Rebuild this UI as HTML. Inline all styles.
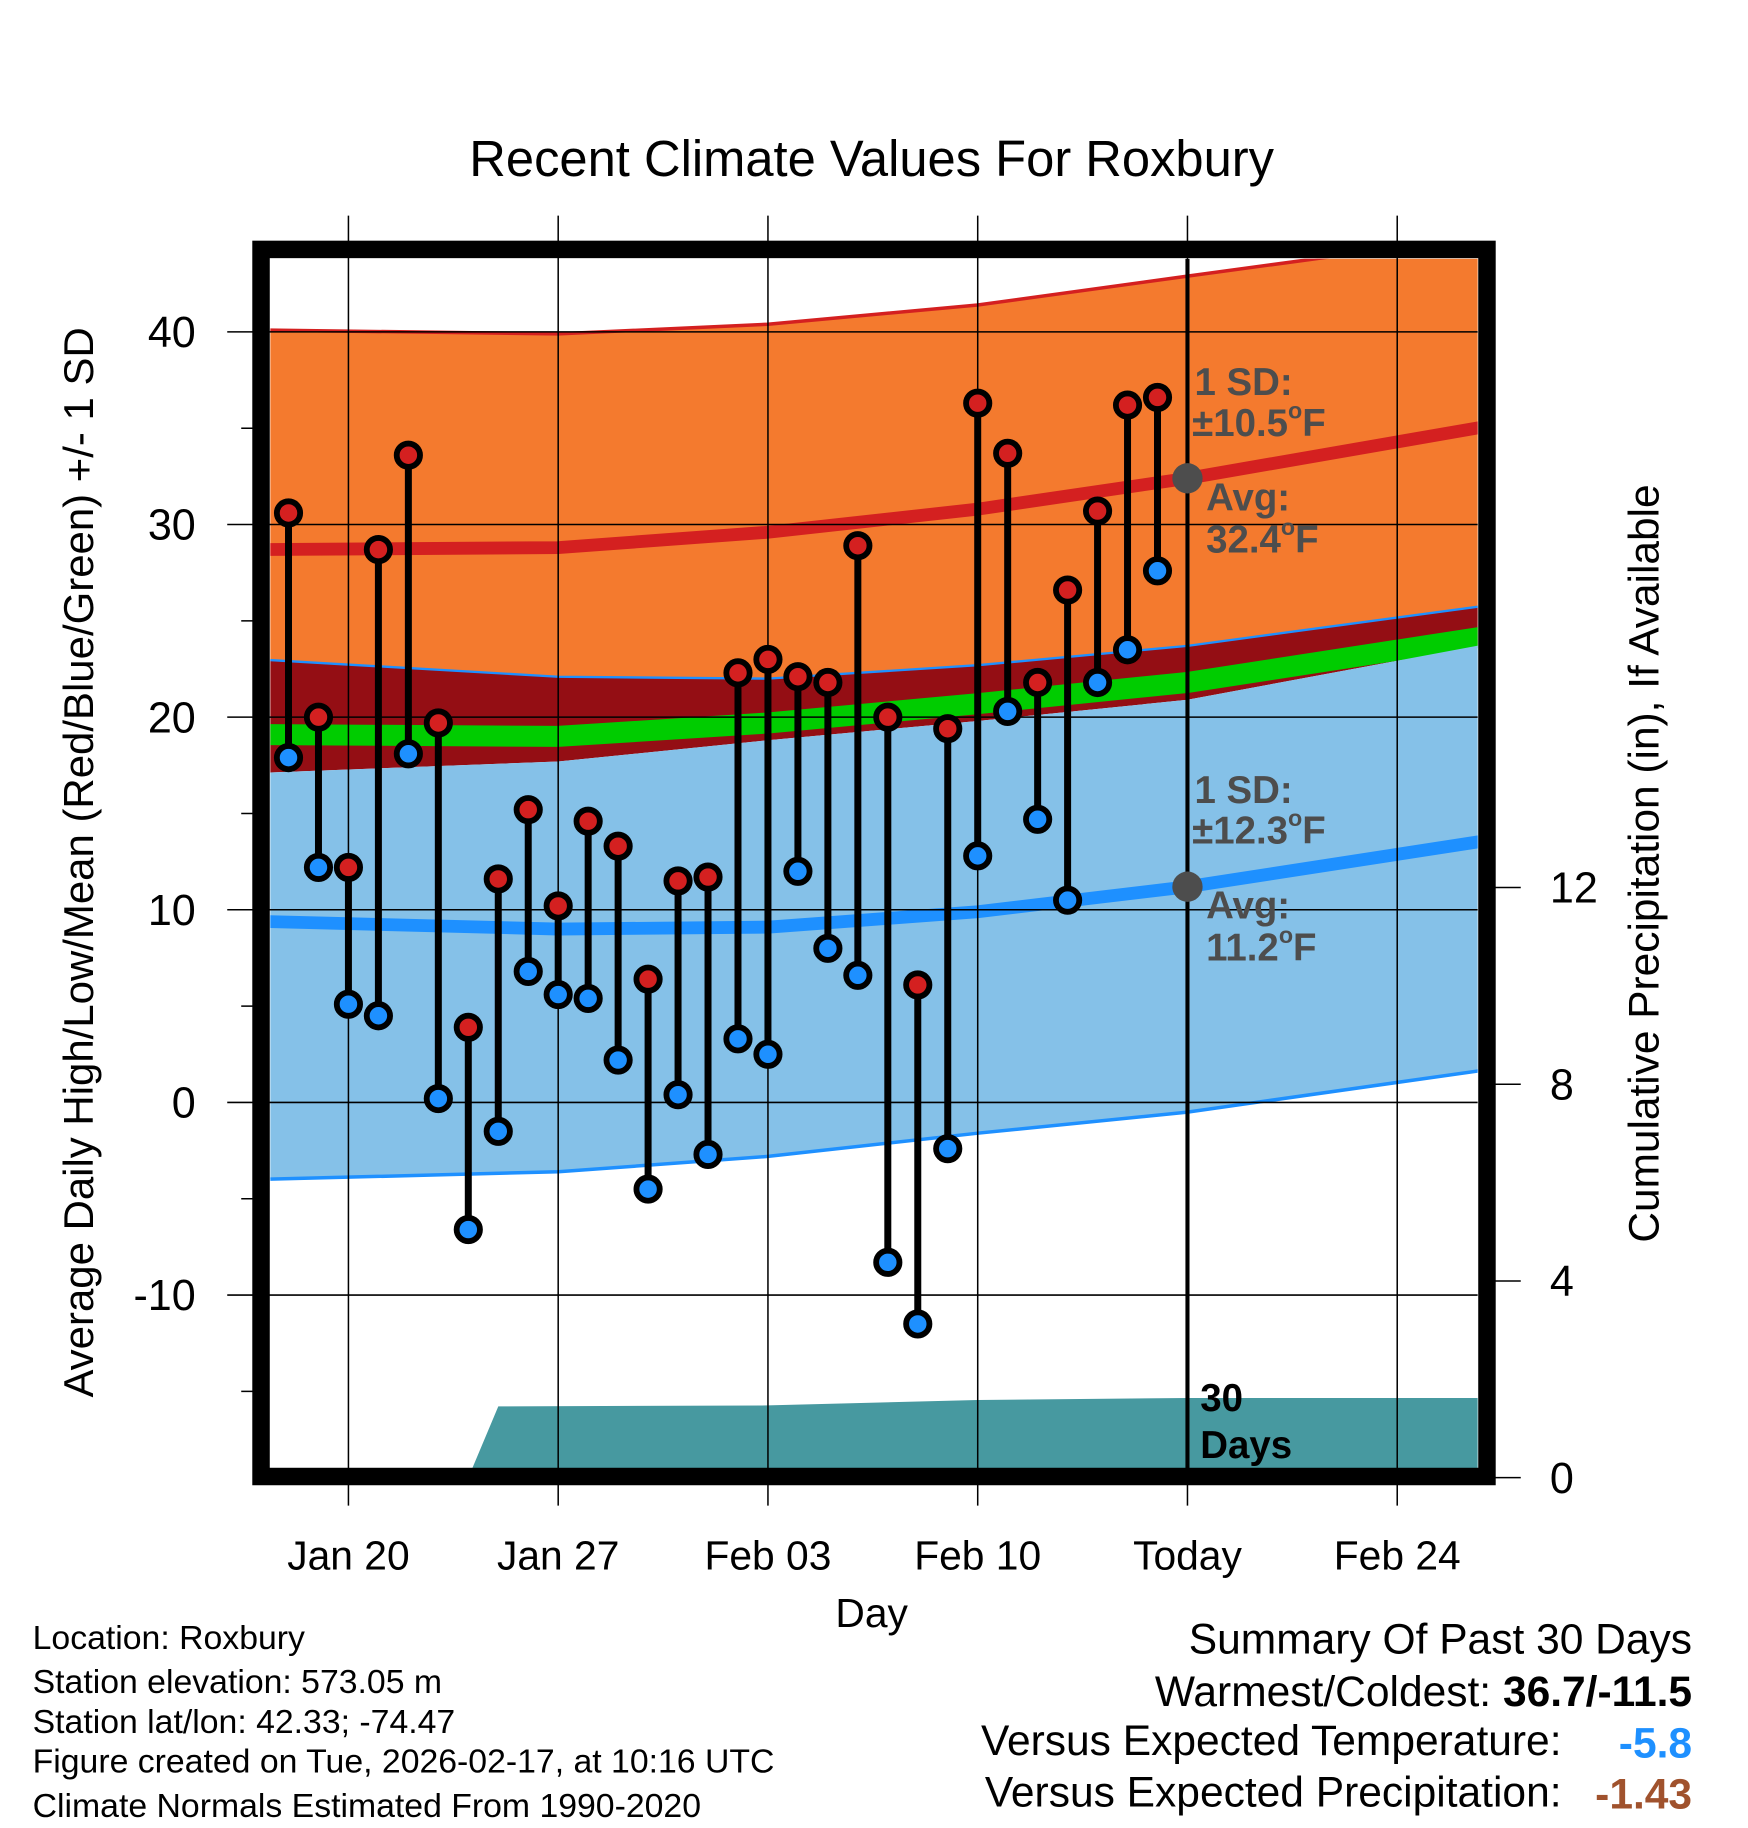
<!DOCTYPE html>
<html><head><meta charset="utf-8"><style>
html,body{margin:0;padding:0;background:#fff}
svg{display:block}
text{font-family:"Liberation Sans",Arial,sans-serif}
</style></head><body>
<svg id="chart" xmlns="http://www.w3.org/2000/svg" width="1748" height="1828" viewBox="0 0 1500 1568.6">
<defs><clipPath id="plotclip"><rect x="232" y="222" width="1036" height="1038"/></clipPath></defs>
<text x="748" y="151" font-size="43.5" text-anchor="middle">Recent Climate Values For Roxbury</text>
<g id="plot" clip-path="url(#plotclip)"></g>
<g id="grid"></g>
<g id="marks" clip-path="url(#plotclip)"></g>
<rect x="224" y="214" width="1052" height="1053" fill="none" stroke="#000" stroke-width="15"/>
<g id="axes"></g>
<g fill="#4d4d4d" font-weight="bold" font-size="33">
<text x="1025" y="339">1 SD:</text>
<text x="1023" y="374">±10.5<tspan font-size="20" dy="-15">o</tspan><tspan dy="15">F</tspan></text>
<text x="1035" y="438">Avg:</text>
<text x="1035" y="474">32.4<tspan font-size="20" dy="-15">o</tspan><tspan dy="15">F</tspan></text>
</g>
<g fill="#4d4d4d" font-weight="bold" font-size="33">
<text x="1025" y="689">1 SD:</text>
<text x="1023" y="724">±12.3<tspan font-size="20" dy="-15">o</tspan><tspan dy="15">F</tspan></text>
<text x="1035" y="788">Avg:</text>
<text x="1035" y="824">11.2<tspan font-size="20" dy="-15">o</tspan><tspan dy="15">F</tspan></text>
</g>
<g font-weight="bold" font-size="33">
<text x="1030" y="1211">30</text><text x="1030" y="1251">Days</text>
</g>
<text transform="translate(80,740) rotate(-90)" font-size="36" text-anchor="middle">Average Daily High/Low/Mean (Red/Blue/Green) +/- 1 SD</text>
<text transform="translate(1423,741) rotate(-90)" font-size="36.4" text-anchor="middle">Cumulative Precipitation (in), If Available</text>
<text x="748" y="1396" font-size="35" text-anchor="middle">Day</text>
<g font-size="29">
<text x="28" y="1415">Location: Roxbury</text>
<text x="28" y="1453">Station elevation: 573.05 m</text>
<text x="28" y="1487">Station lat/lon: 42.33; -74.47</text>
<text x="28" y="1521">Figure created on Tue, 2026-02-17, at 10:16 UTC</text>
<text x="28" y="1559">Climate Normals Estimated From 1990-2020</text>
</g>
<g font-size="36.5" text-anchor="end">
<text x="1452" y="1419">Summary Of Past 30 Days</text>
<text x="1452" y="1464">Warmest/Coldest: <tspan font-weight="bold">36.7/-11.5</tspan></text>
<text x="1340" y="1506">Versus Expected Temperature:</text>
<text x="1452" y="1508" font-weight="bold" fill="#1e90ff">-5.8</text>
<text x="1340" y="1550">Versus Expected Precipitation:</text>
<text x="1452" y="1552" font-weight="bold" fill="#a0522d">-1.43</text>
</g>
</svg>
<script>
// normals sampled at day offsets from Jan 17
const normDays = [0, 10, 17, 24, 31, 41];
const hiTop  = [40.1, 39.9, 40.4, 41.4, 42.9, 45.0];
const hiMean = [28.7, 28.8, 29.6, 30.8, 32.4, 35.1];
const hiBot  = [23.0, 22.1, 22.0, 22.7, 23.7, 25.8];
const meanT  = [19.1, 19.0, 19.7, 20.7, 21.8, 24.2];
const loTop  = [17.1, 17.7, 18.8, 19.8, 20.9, 23.8];
const loMean = [9.4, 9.0, 9.1, 9.9, 11.2, 13.6];
const loBot  = [-4.0, -3.6, -2.8, -1.6, -0.5, 1.7];
// observed daily values, Jan 18 .. Feb 16
const obsHigh = [30.6,20.0,12.2,28.7,33.6,19.7,3.9,11.6,15.2,10.2,14.6,13.3,6.4,11.5,11.7,22.3,23.0,22.1,21.8,28.9,20.0,6.1,19.4,36.3,33.7,21.8,26.6,30.7,36.2,36.6];
const obsLow  = [17.9,12.2,5.1,4.5,18.1,0.2,-6.6,-1.5,6.8,5.6,5.4,2.2,-4.5,0.4,-2.7,3.3,2.5,12.0,8.0,6.6,-8.3,-11.5,-2.4,12.8,20.3,14.7,10.5,21.8,23.5,27.6];
// cumulative precipitation (in)
const precipDays = [0, 7, 8, 17, 24, 31, 41];
const precipCum  = [0, 0, 1.45, 1.47, 1.58, 1.62, 1.62];
const yTicks = [-10, 0, 10, 20, 30, 40];
const y2Ticks = [0, 4, 8, 12];
const xTickDays = [3, 10, 17, 24, 31, 38];
const xTickLabels = ["Jan 20","Jan 27","Feb 03","Feb 10","Today","Feb 24"];
const todayDay = 31;

const NS="http://www.w3.org/2000/svg";
const X = d => 299 + (d - 3) * 25.714;
const Y = v => 946 - v * 16.53;
const Y2 = p => 1268 - p * 42.2;
function mk(tag, attrs, parent){const e=document.createElementNS(NS,tag);for(const k in attrs)e.setAttribute(k,attrs[k]);parent.appendChild(e);return e;}
const plot=document.getElementById('plot'), grid=document.getElementById('grid'), marks=document.getElementById('marks'), axes=document.getElementById('axes');
function pts(days, vals, f){return days.map((d,i)=>X(d).toFixed(1)+','+f(vals[i]).toFixed(1));}
function band(top, bot, fill, name){
  const p=pts(normDays,top,Y).concat(pts(normDays,bot,Y).reverse());
  const e=mk('polygon',{points:p.join(' '),fill:fill},plot);
  
  
}
function line(vals, color, w, name){
  const e=mk('polyline',{points:pts(normDays,vals,Y).join(' '),fill:'none',stroke:color,'stroke-width':w},plot);
  
  
}
band(hiTop, hiBot, '#f47a2e', 'high-sd-band');
band(hiBot, loTop, '#940e14', 'overlap-band');
line(meanT, '#00cc00', 18, 'mean-temp-line');
band(loTop, loBot, '#85c1e8', 'low-sd-band');
line(hiTop, '#d42020', 3, 'high-upper-line');
line(hiMean, '#d42020', 11, 'high-mean-line');
line(hiBot, '#1e90ff', 2, 'high-lower-line');
line(loMean, '#1e90ff', 11, 'low-mean-line');
line(loBot, '#1e90ff', 3, 'low-lower-line');
{
  const p=pts(precipDays,precipCum,Y2);
  p.push(X(41)+','+Y2(0), X(0)+','+Y2(0));
  const e=mk('polygon',{points:p.join(' '),fill:'#4799a0'},plot);
  
  
}
xTickDays.forEach((d,i)=>{
  const g=mk('line',{x1:X(d),x2:X(d),y1:185,y2:1292,stroke:'#000','stroke-width':1.3},grid);
  
  
  const t=mk('text',{x:X(d),y:1347,'font-size':35,'text-anchor':'middle'},axes);
  t.textContent=xTickLabels[i];
  
  
});
yTicks.forEach(v=>{
  const g=mk('line',{x1:195,x2:1268,y1:Y(v),y2:Y(v),stroke:'#000','stroke-width':1.3},grid);
  
  
  const t=mk('text',{x:168,y:Y(v)+13,'font-size':37,'text-anchor':'end'},axes);
  t.textContent=String(v);
  
  
});
for(let v=-15; v<=40; v+=10){
  const g=mk('line',{x1:207,x2:218,y1:Y(v),y2:Y(v),stroke:'#000','stroke-width':1.3},grid);
  
  
}
y2Ticks.forEach(p=>{
  const g=mk('line',{x1:1282,x2:1305,y1:Y2(p),y2:Y2(p),stroke:'#000','stroke-width':1.3},axes);
  
  
  const t=mk('text',{x:1330,y:Y2(p)+13,'font-size':37},axes);
  t.textContent=String(p);
  
  
});
{
  const e=mk('line',{x1:X(todayDay),x2:X(todayDay),y1:222,y2:1260,stroke:'#000','stroke-width':3.5},marks);
  
  
  const a=mk('circle',{cx:X(todayDay),cy:Y(hiMean[4]),r:13,fill:'#4d4d4d'},marks);
  
  
  const b=mk('circle',{cx:X(todayDay),cy:Y(loMean[4]),r:13,fill:'#4d4d4d'},marks);
  
  
}
obsHigh.forEach((h,i)=>{
  const d=i+1, x=X(d);
  const s=mk('line',{x1:x,x2:x,y1:Y(h),y2:Y(obsLow[i]),stroke:'#000','stroke-width':6},marks);
  
  
  const c1=mk('circle',{cx:x,cy:Y(h),r:10,fill:'#d42020',stroke:'#000','stroke-width':5},marks);
  
  
  const c2=mk('circle',{cx:x,cy:Y(obsLow[i]),r:10,fill:'#1e90ff',stroke:'#000','stroke-width':5},marks);
  
  
});
</script>
</body></html>
